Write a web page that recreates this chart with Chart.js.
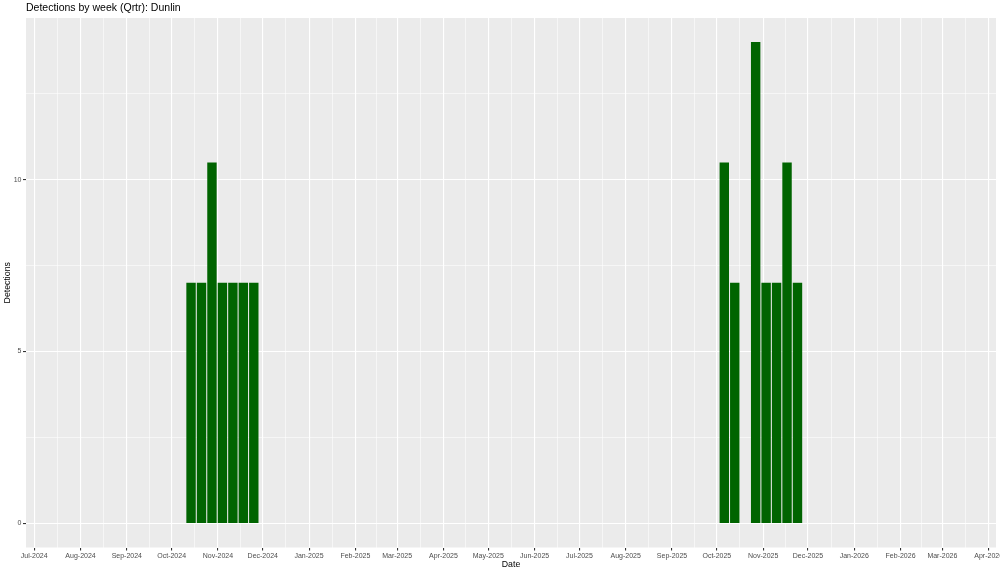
<!DOCTYPE html>
<html>
<head>
<meta charset="utf-8">
<script src="https://cdn.jsdelivr.net/npm/chart.js@4/dist/chart.umd.min.js"></script>
<style>
html,body{margin:0;padding:0;background:#ffffff;}
#c{display:block;}
</style>
</head>
<body>
<canvas id="c" width="1000" height="573"></canvas>
<script>
// ---- data ----
const weekStarts = ['2024-10-14','2024-10-21','2024-10-28','2024-11-04','2024-11-11','2024-11-18','2024-11-25',
                    '2025-10-06','2025-10-13','2025-10-27','2025-11-03','2025-11-10','2025-11-17','2025-11-24'];
const detections = [7, 7, 10.5, 7, 7, 7, 7, 10.5, 7, 14, 7, 7, 10.5, 7];

const monthTicks = ['2024-07-01','2024-08-01','2024-09-01','2024-10-01','2024-11-01','2024-12-01',
                    '2025-01-01','2025-02-01','2025-03-01','2025-04-01','2025-05-01','2025-06-01',
                    '2025-07-01','2025-08-01','2025-09-01','2025-10-01','2025-11-01','2025-12-01',
                    '2026-01-01','2026-02-01','2026-03-01','2026-04-01'];
const monthLabels = ['Jul-2024','Aug-2024','Sep-2024','Oct-2024','Nov-2024','Dec-2024',
                     'Jan-2025','Feb-2025','Mar-2025','Apr-2025','May-2025','Jun-2025',
                     'Jul-2025','Aug-2025','Sep-2025','Oct-2025','Nov-2025','Dec-2025',
                     'Jan-2026','Feb-2026','Mar-2026','Apr-2026'];
const yTicks = [0, 5, 10];
const yTickLabels = ['0', '5', '10'];

// ---- helpers ----
const toDay = s => Date.UTC(+s.slice(0,4), +s.slice(5,7) - 1, +s.slice(8,10)) / 86400000;
const monthDays = monthTicks.map(toDay);
const xMin = monthDays[0] - 5.5;
const xMax = monthDays[monthDays.length - 1] + 4.9;

const xTickObjs = [];
monthDays.forEach((d, i) => {
  xTickObjs.push({value: d, minor: false, label: monthLabels[i]});
  if (i < monthDays.length - 1) xTickObjs.push({value: (d + monthDays[i+1]) / 2, minor: true, label: ''});
});
const yTickObjs = [];
yTicks.forEach((v, i) => {
  yTickObjs.push({value: v, minor: false, label: yTickLabels[i]});
  yTickObjs.push({value: v + 2.5, minor: true, label: ''});
});

const panelBg = {
  id: 'panelBg',
  beforeDraw(chart) {
    const {ctx, chartArea: a} = chart;
    ctx.save();
    ctx.fillStyle = '#EBEBEB';
    ctx.fillRect(a.left, a.top, a.right - a.left, a.bottom - a.top);
    ctx.restore();
  }
};

const FONT = "'Liberation Sans', Arial, Helvetica, sans-serif";
const noPad = s => { s.paddingLeft = 0; s.paddingRight = 0; s.paddingTop = 0; s.paddingBottom = 0; };

new Chart(document.getElementById('c'), {
  type: 'bar',
  data: {
    datasets: [{
      label: 'Detections',
      data: weekStarts.map((w, i) => ({x: toDay(w), y: detections[i]})),
      backgroundColor: '#006400',
      borderWidth: 0,
      barPercentage: 0.9,
      categoryPercentage: 1.0
    }]
  },
  options: {
    responsive: false,
    animation: false,
    devicePixelRatio: 1,
    layout: {padding: {left: 0, right: 4, top: 0, bottom: 0}},
    plugins: {
      legend: {display: false},
      tooltip: {enabled: false},
      title: {
        display: true,
        text: 'Detections by week (Qrtr): Dunlin',
        align: 'start',
        fullSize: false,
        color: '#000000',
        font: {family: FONT, size: 10.5, weight: 'normal', lineHeight: 1.2},
        padding: {top: 2.2, bottom: 3.2}
      }
    },
    scales: {
      x: {
        type: 'linear',
        min: xMin,
        max: xMax,
        offset: false,
        border: {display: false},
        grid: {
          offset: false,
          color: '#FFFFFF',
          lineWidth: c => (c.tick && c.tick.minor) ? 0.55 : 1.1,
          drawTicks: true,
          tickLength: 3,
          tickWidth: 1.1,
          tickColor: c => (c.tick && c.tick.minor) ? 'rgba(0,0,0,0)' : '#333333'
        },
        afterBuildTicks: s => { s.ticks = xTickObjs.map(t => ({value: t.value, minor: t.minor, label: t.label})); },
        afterFit: s => { s.height = 25.5; noPad(s); },
        ticks: {
          autoSkip: false,
          maxRotation: 0,
          padding: 1.5,
          color: '#4D4D4D',
          font: {family: FONT, size: 7},
          callback: (v, i) => xTickObjs[i] ? xTickObjs[i].label : ''
        },
        title: {
          display: true,
          text: 'Date',
          color: '#000000',
          font: {family: FONT, size: 8.75, lineHeight: 1.2},
          padding: {top: 0, bottom: 3.5}
        }
      },
      y: {
        type: 'linear',
        min: -0.7,
        max: 14.7,
        border: {display: false},
        grid: {
          color: '#FFFFFF',
          lineWidth: c => (c.tick && c.tick.minor) ? 0.55 : 1.1,
          drawTicks: true,
          tickLength: 3,
          tickWidth: 1.1,
          tickColor: c => (c.tick && c.tick.minor) ? 'rgba(0,0,0,0)' : '#333333'
        },
        afterBuildTicks: s => { s.ticks = yTickObjs.map(t => ({value: t.value, minor: t.minor, label: t.label})); },
        afterFit: s => { s.width = 26; noPad(s); },
        ticks: {
          autoSkip: false,
          padding: 1.5,
          color: '#4D4D4D',
          font: {family: FONT, size: 7},
          callback: (v, i) => yTickObjs[i] ? yTickObjs[i].label : ''
        },
        title: {
          display: true,
          text: 'Detections',
          color: '#000000',
          font: {family: FONT, size: 8.75, lineHeight: 1.2},
          padding: {top: 2.2, bottom: 0}
        }
      }
    }
  },
  plugins: [panelBg]
});
</script>
</body>
</html>
